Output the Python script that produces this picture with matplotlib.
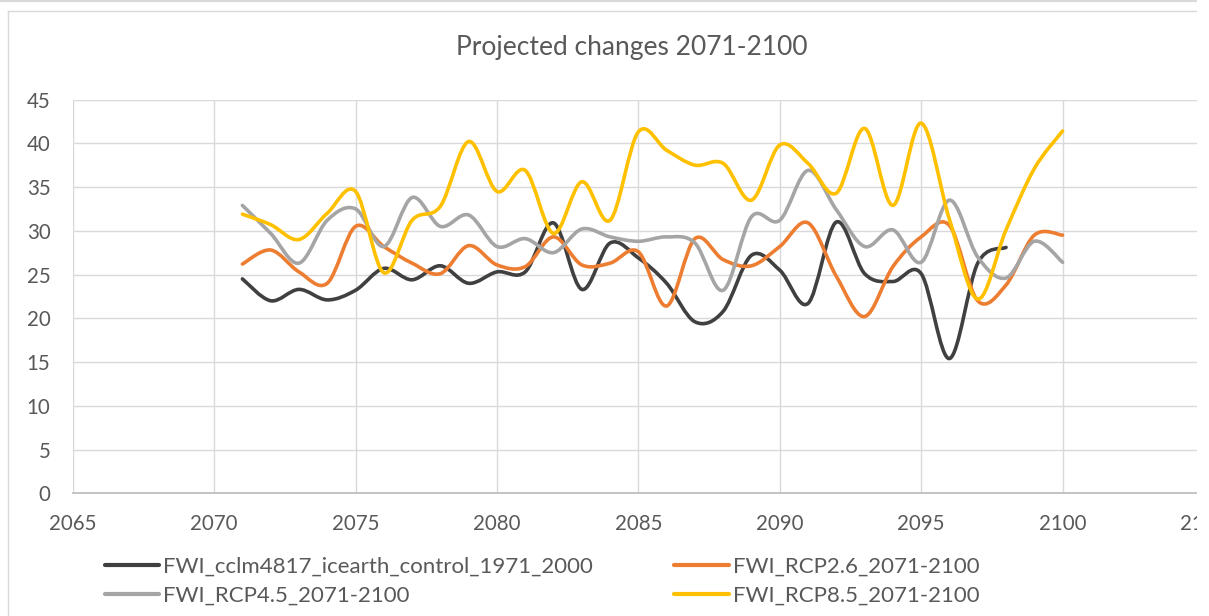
import matplotlib
matplotlib.use('Agg')
import matplotlib.pyplot as plt
import numpy as np
from matplotlib.path import Path
from matplotlib.patches import PathPatch, Rectangle
from matplotlib.lines import Line2D

plt.rcParams['font.family'] = ['Lato', 'DejaVu Sans']

# data
years_ctrl = np.arange(2071, 2099)
years = np.arange(2071, 2101)

fwi_control = [24.5, 22.0, 23.3, 22.1, 23.2, 25.7, 24.4, 26.0, 24.0, 25.3,
               25.3, 30.9, 23.3, 28.6, 26.9, 24.0, 19.6, 20.8, 27.2, 25.5,
               21.7, 31.0, 25.1, 24.2, 25.1, 15.4, 26.3, 28.1]
fwi_rcp26 = [26.2, 27.8, 25.3, 24.0, 30.5, 28.2, 26.3, 25.1, 28.3, 26.1,
             25.9, 29.3, 26.1, 26.3, 27.6, 21.4, 29.1, 26.7, 26.0, 28.2,
             30.9, 24.8, 20.2, 25.9, 29.3, 30.6, 22.0, 23.8, 29.5, 29.5]
fwi_rcp45 = [32.9, 29.7, 26.3, 31.2, 32.5, 28.2, 33.8, 30.5, 31.8, 28.2,
             29.1, 27.5, 30.2, 29.3, 28.8, 29.3, 28.6, 23.2, 31.6, 31.2,
             36.9, 32.4, 28.2, 30.1, 26.4, 33.5, 27.0, 24.6, 28.8, 26.4]
fwi_rcp85 = [31.9, 30.7, 29.0, 32.0, 34.5, 25.2, 31.2, 32.8, 40.2, 34.5,
             36.9, 29.7, 35.6, 31.2, 41.3, 39.2, 37.5, 37.7, 33.5, 39.8,
             37.7, 34.3, 41.7, 32.9, 42.3, 31.3, 22.2, 30.1, 37.1, 41.4]

labels = ['FWI_cclm4817_icearth_control_1971_2000', 'FWI_RCP2.6_2071-2100',
          'FWI_RCP4.5_2071-2100', 'FWI_RCP8.5_2071-2100']
colors = ['#404040', '#ED7D31', '#A5A5A5', '#FFC000']

W, H = 1209, 616
txt = '#595959'


# smoothed line like excel (bezier through the points)
def smooth_path(x, y):
    pts = np.column_stack([x, y]).astype(float)
    n = len(pts)
    verts = [pts[0]]
    codes = [Path.MOVETO]
    for i in range(n - 1):
        p0 = pts[max(i - 1, 0)]
        p1 = pts[i]
        p2 = pts[i + 1]
        p3 = pts[min(i + 2, n - 1)]
        verts += [p1 + (p2 - p0) / 6, p2 - (p3 - p1) / 6, p2]
        codes += [Path.CURVE4] * 3
    return Path(verts, codes)


fig = plt.figure(figsize=(W / 100, H / 100), dpi=100)
ax = fig.add_axes([72.7 / W, 1 - 493.3 / H, (1204 - 72.7) / W, (493.3 - 99.5) / H])

series = [(years_ctrl, fwi_control), (years, fwi_rcp26), (years, fwi_rcp45), (years, fwi_rcp85)]
for (xs, ys), c in zip(series, colors):
    p = PathPatch(smooth_path(xs, ys), fill=False, edgecolor=c, lw=2.6,
                  capstyle='round', joinstyle='round', zorder=3)
    ax.add_patch(p)

ax.set_xlim(2065, 2105)
ax.set_ylim(0, 45)
ax.set_xticks(np.arange(2065, 2106, 5))
ax.set_yticks(np.arange(0, 46, 5))
ax.grid(True, color='#D9D9D9', lw=1.0)
ax.set_axisbelow(True)
for s in ['top', 'right', 'left']:
    ax.spines[s].set_visible(False)
ax.spines['bottom'].set_color('#BFBFBF')
ax.spines['bottom'].set_linewidth(1.3)
ax.tick_params(length=0, labelsize=14.8, labelcolor=txt)
ax.tick_params(axis='x', pad=15)
ax.tick_params(axis='y', pad=16)

fig.text(632 / W, 1 - 48 / H, 'Projected changes 2071-2100', ha='center', va='center',
         fontsize=19, color=txt)

handles = [Line2D([], [], color=c, lw=3, solid_capstyle='round') for c in colors]
order = [0, 2, 1, 3]
fig.legend([handles[i] for i in order], [labels[i] for i in order], ncol=2,
           loc='upper left', bbox_to_anchor=(105 / W, 1 - 557 / H), frameon=False,
           fontsize=16, handlelength=2.45, handletextpad=0.18, columnspacing=3.65,
           labelspacing=0.4, borderpad=0, borderaxespad=0, labelcolor=txt)

# chart area border and crop
fig.add_artist(Line2D([8 / W, 1197 / W], [1 - 11 / H, 1 - 11 / H], color='#D9D9D9', lw=1))
fig.add_artist(Line2D([8 / W, 8 / W], [1 - 11 / H, 0], color='#D9D9D9', lw=1))
fig.add_artist(Line2D([0, 1197 / W], [1 - 1 / H, 1 - 1 / H], color='#D9D9D9', lw=1.5))
fig.add_artist(Rectangle((1197 / W, 0), 12 / W, 1, transform=fig.transFigure,
                         facecolor='white', edgecolor='none', zorder=10))

fig.savefig('out.png', dpi=100)
